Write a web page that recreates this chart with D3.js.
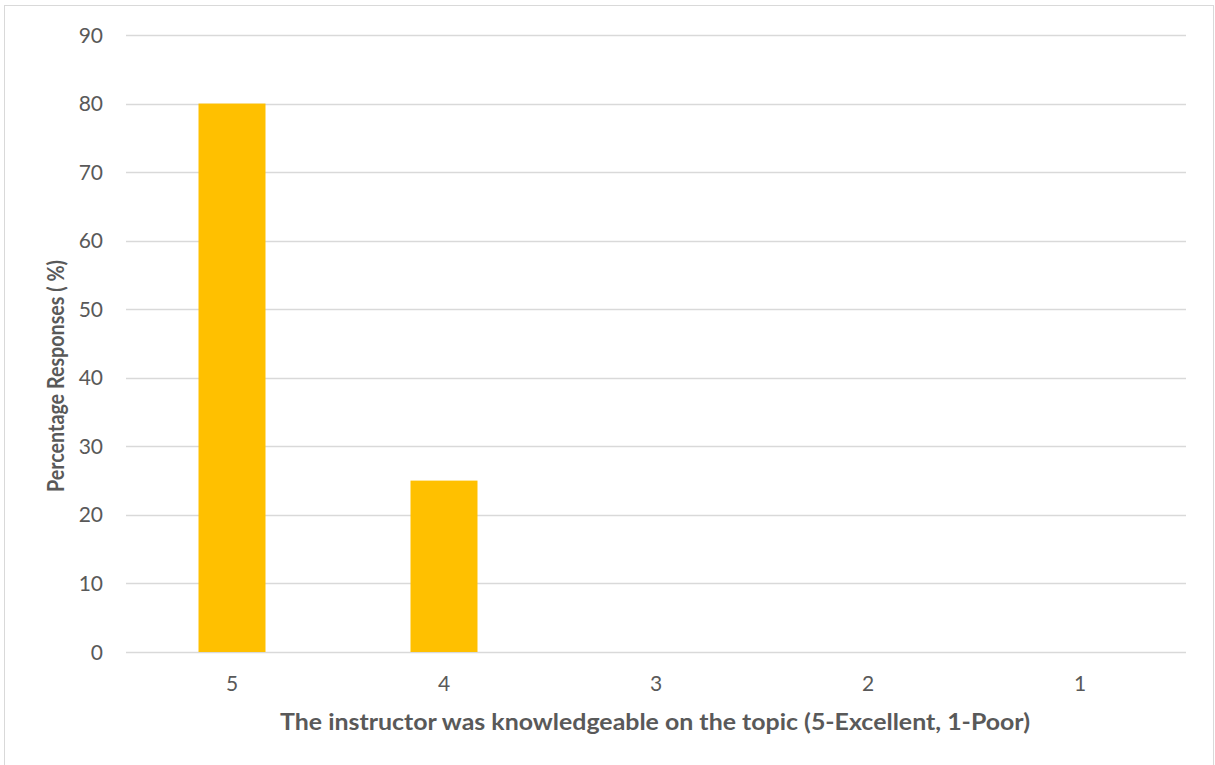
<!DOCTYPE html>
<html><head><meta charset="utf-8">
<script src="https://cdn.jsdelivr.net/npm/d3@7"></script>
<style>
html,body{margin:0;padding:0;background:#fff;}
svg{display:block;}
text{font-family:Lato,"Liberation Sans",sans-serif;fill:#595959;}
</style></head>
<body>
<svg id="chart" width="1215" height="765"></svg>
<script>
const categories = ["5","4","3","2","1"];
const values = [80, 25, 0, 0, 0];
const yTicks = [0,10,20,30,40,50,60,70,80,90];
const xTitle = "The instructor was knowledgeable on the topic (5-Excellent, 1-Poor)";
const yTitle = "Percentage Responses ( %)";

const svg = d3.select("#chart");
const plotLeft = 126, plotRight = 1186, plotTop = 35, plotBottom = 652;

// outer border
svg.append("rect").attr("x",4.5).attr("y",5.5).attr("width",1209).attr("height",770)
  .attr("fill","none").attr("stroke","#d9d9d9").attr("stroke-width",1);

const x = d3.scaleBand().domain(categories).range([plotLeft,plotRight])
  .paddingInner(0.684).paddingOuter(0.342);
const y = d3.scaleLinear().domain([0,90]).range([plotBottom,plotTop]);

// gridlines
svg.append("g").selectAll("line").data(yTicks).join("line")
  .attr("x1",plotLeft).attr("x2",plotRight)
  .attr("y1",d=>Math.round(y(d))+0.5).attr("y2",d=>Math.round(y(d))+0.5)
  .attr("stroke","#d9d9d9").attr("stroke-width",1.3);

// bars
svg.append("g").selectAll("rect").data(categories).join("rect")
  .attr("x",d=>x(d)).attr("width",x.bandwidth())
  .attr("y",(d,i)=>y(values[i])).attr("height",(d,i)=>y(0)-y(values[i]))
  .attr("fill","#FFC000");

// y tick labels
svg.append("g").selectAll("text").data(yTicks).join("text")
  .attr("x",103).attr("y",d=>y(d)).attr("dy","0.36em")
  .attr("text-anchor","end").attr("font-size",21).text(d=>d);

// x tick labels
svg.append("g").selectAll("text").data(categories).join("text")
  .attr("x",d=>x(d)+x.bandwidth()/2).attr("y",691)
  .attr("text-anchor","middle").attr("font-size",21).text(d=>d);

// axis titles
svg.append("text").attr("x",655).attr("y",730).attr("text-anchor","middle")
  .attr("font-size",23.5).attr("font-weight","bold")
  .attr("textLength",750).attr("lengthAdjust","spacingAndGlyphs").text(xTitle);

svg.append("text").attr("transform","translate(64,376) rotate(-90)")
  .attr("text-anchor","middle").attr("font-size",23.5).attr("font-weight","bold")
  .attr("textLength",232).attr("lengthAdjust","spacingAndGlyphs").text(yTitle);
</script>
</body></html>
